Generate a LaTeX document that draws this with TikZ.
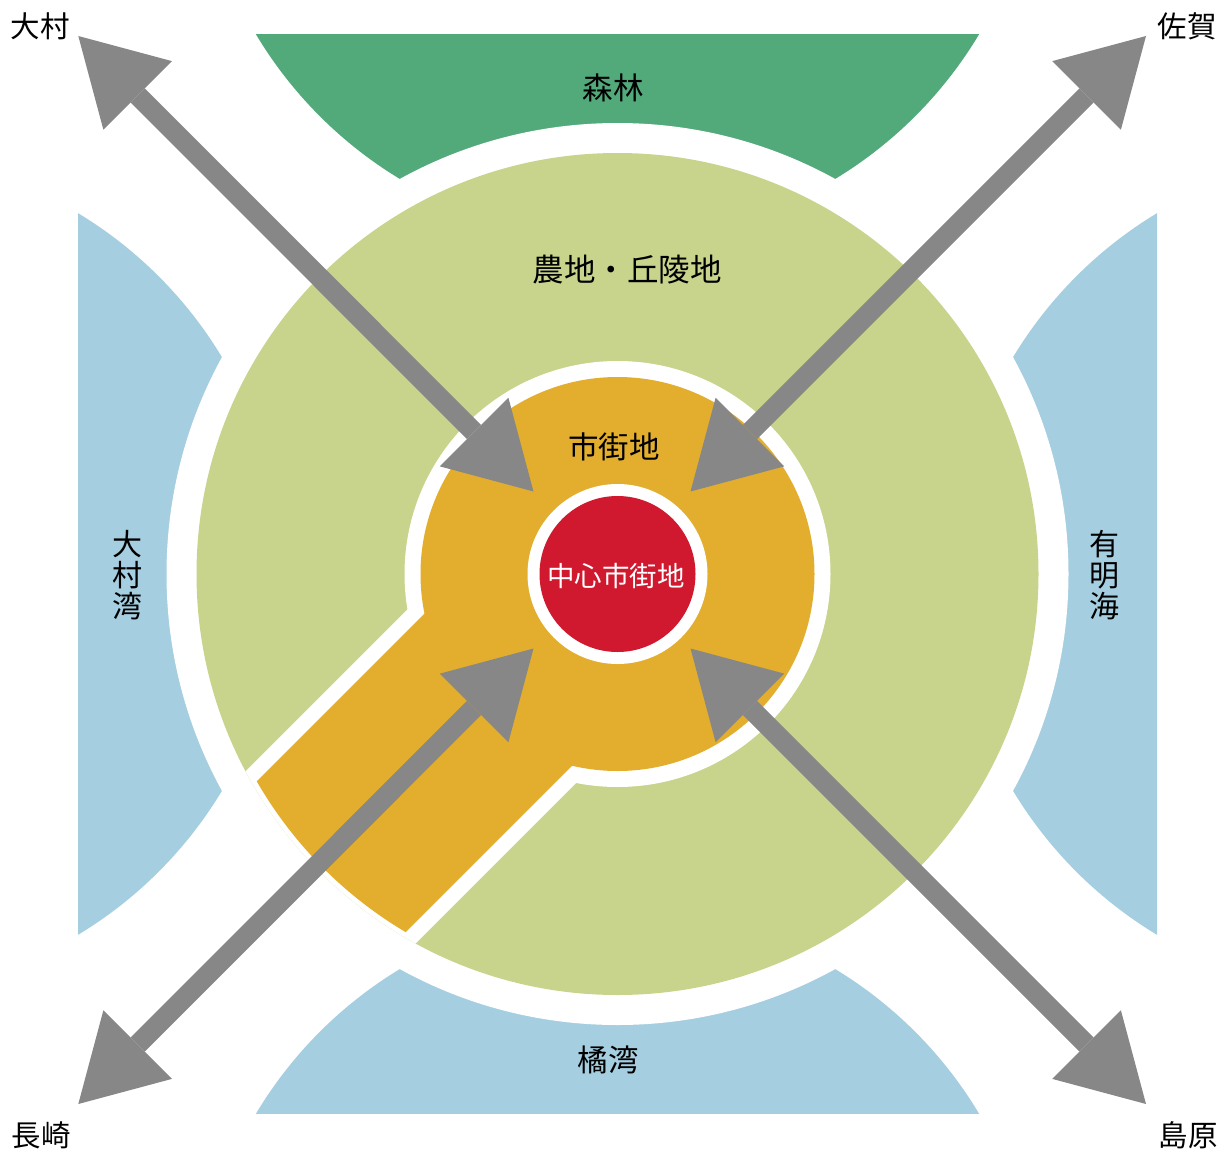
\documentclass[tikz,border=0pt]{standalone}
\usepackage{fontspec}
\setmainfont{Noto Sans CJK JP}
\usetikzlibrary{arrows.meta}
\definecolor{forest}{HTML}{52A97A}
\definecolor{farm}{HTML}{C8D38B}
\definecolor{town}{HTML}{E3AE2E}
\definecolor{sea}{HTML}{A5CEE0}
\definecolor{arrowgray}{HTML}{878787}
\definecolor{core}{HTML}{D0182E}
\begin{document}
\begin{tikzpicture}[x=1pt,y=-1pt,
  lbl/.style={inner sep=0pt, font=\fontsize{30.5}{31}\selectfont, text=black},
  cornerlbl/.style={lbl, font=\fontsize{29.5}{31}\selectfont},
  vlbl/.style={lbl, align=center, font=\fontsize{30}{31}\selectfont},
  arr/.style={draw=arrowgray, line width=20pt,
    {Triangle[length=84pt,width=97pt,line width=0pt]}-{Triangle[length=84pt,width=97pt,line width=0pt]}}]
\useasboundingbox (0,0) rectangle (1228,1153);
\coordinate (O) at (617.5,574);
% outer regions
\begin{scope}
  \clip (78,35) rectangle (1157,1113);
  \fill[forest] (617.5,-181.5) circle[radius=421pt];
  \fill[sea] (617.5,1329.5) circle[radius=421pt];
  \fill[sea] (-139,574) circle[radius=421pt];
  \fill[sea] (1374,574) circle[radius=421pt];
\end{scope}
\fill[white] (O) circle[radius=451pt];
\fill[farm] (O) circle[radius=421pt];
% white border of town area
\begin{scope}
  \clip (O) circle[radius=421pt];
  \fill[white] (O) circle[radius=213pt];
  \fill[white] (530.2,486.7) -- (701.3,657.8) -- (347.7,1011.4) -- (176.6,840.3) -- cycle;
\end{scope}
% town area
\begin{scope}
  \clip (O) circle[radius=416pt];
  \fill[town] (O) circle[radius=197pt];
  \fill[town] (540.8,497.3) -- (690.7,647.2) -- (337.1,1000.8) -- (187.2,850.9) -- cycle;
\end{scope}
\fill[white] (O) circle[radius=90pt];
\fill[core] (O) circle[radius=78pt];
% arrows
\coordinate (nwo) at (78.3,36);
\coordinate (nwi) at (533.5,491.5);
\coordinate (neo) at (1146,36);
\coordinate (nei) at (690.5,491.5);
\coordinate (seo) at (1146,1104);
\coordinate (sei) at (690.5,648.5);
\coordinate (swo) at (78.3,1104);
\coordinate (swi) at (533.5,648.5);
\draw[arr] (nwo) -- (nwi);
\draw[arr] (neo) -- (nei);
\draw[arr] (seo) -- (sei);
\draw[arr] (swo) -- (swi);
% labels
\node[cornerlbl] (omura) at (40,26) {大村};
\node[cornerlbl] (saga) at (1187,26) {佐賀};
\node[cornerlbl] (nagasaki) at (41,1135) {長崎};
\node[cornerlbl] (shimabara) at (1188,1135) {島原};
\node[lbl] (shinrin) at (613,88) {森林};
\node[lbl, font=\fontsize{31.5}{31}\selectfont] (nouchi) at (627,270) {農地・丘陵地};
\node[lbl] (shigaichi) at (614,447) {市街地};
\node[lbl, text=white, font=\fontsize{27.5}{30}\selectfont] (chushin) at (616,576) {中心市街地};
\node[vlbl] (omurawan) at (127,575) {大\\村\\湾};
\node[vlbl] (ariake) at (1104,575) {有\\明\\海};
\node[lbl] (tachibana) at (608,1060) {橘湾};
\end{tikzpicture}
\end{document}
